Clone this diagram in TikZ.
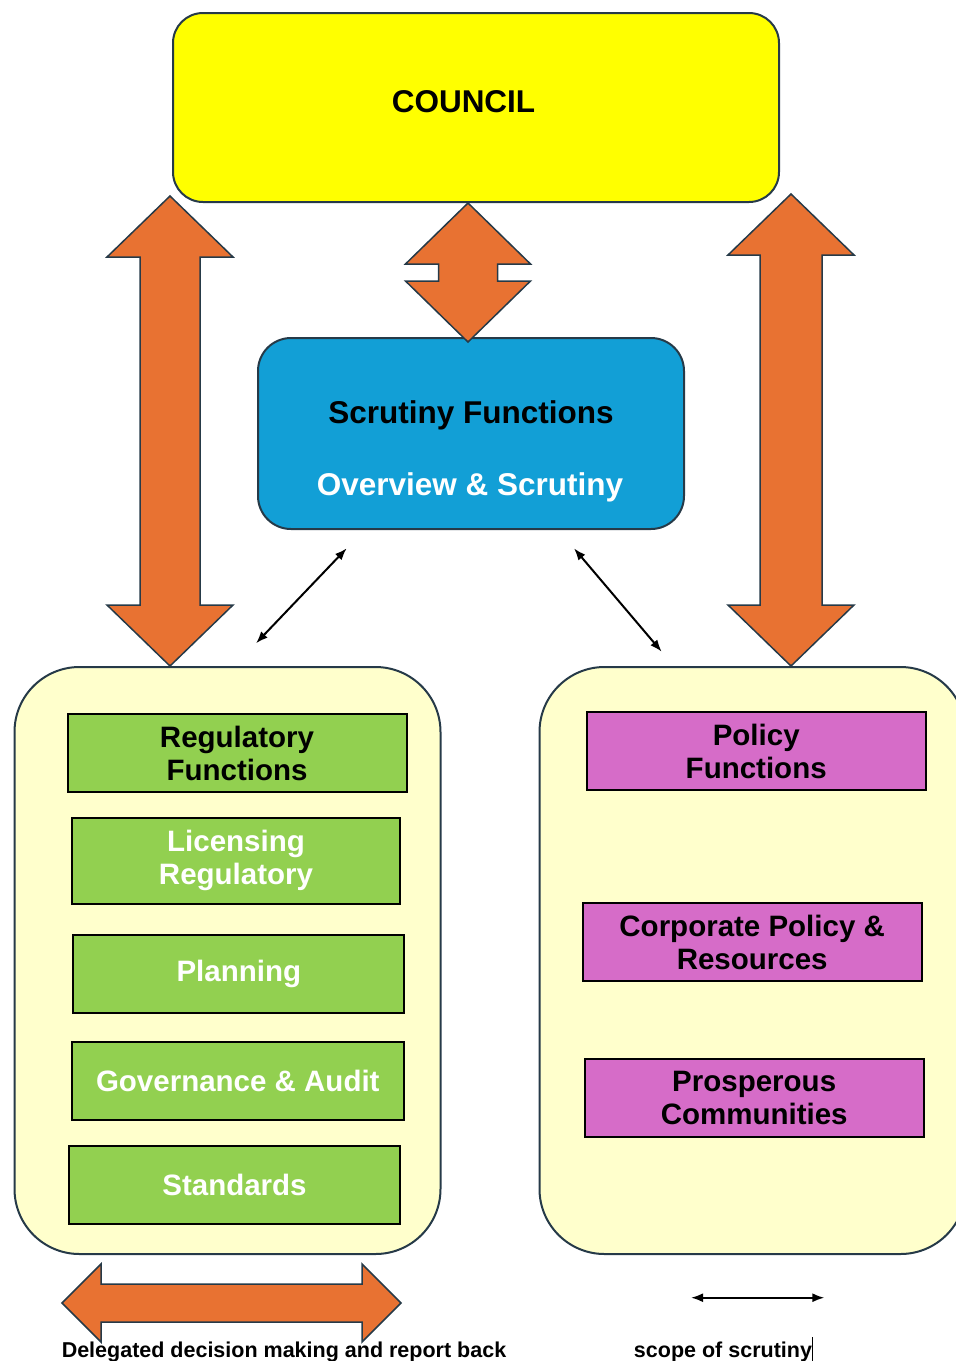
\documentclass[tikz,border=0pt]{standalone}
\usepackage{fontspec}
\setmainfont{Liberation Sans}
\usetikzlibrary{calc,arrows.meta}

\definecolor{cyellow}{RGB}{255,255,0}
\definecolor{sblue}{RGB}{18,159,214}
\definecolor{pyellow}{RGB}{255,255,204}
\definecolor{rgreen}{RGB}{146,208,80}
\definecolor{pmagenta}{RGB}{214,108,200}
\definecolor{aorange}{RGB}{232,114,50}
\definecolor{edgegray}{RGB}{38,58,72}

\begin{document}
\begin{tikzpicture}[x=1pt,y=-1pt,
  every node/.style={font=\fontsize{29.5}{33}\selectfont\bfseries,inner sep=0pt},
  cbox/.style={draw=edgegray,line width=2pt,fill=cyellow,rounded corners=30pt,minimum width=606pt,minimum height=189pt},
  sbox/.style={draw=edgegray,line width=2pt,fill=sblue,rounded corners=33pt,minimum width=426pt,minimum height=191pt},
  panel/.style={draw=edgegray,line width=2pt,fill=pyellow,rounded corners=65pt,minimum width=426pt,minimum height=587pt},
  gbox/.style={draw=black,line width=2pt,fill=rgreen,align=center,minimum width=331pt,minimum height=78pt},
  pbox/.style={draw=black,line width=2pt,fill=pmagenta,align=center,minimum width=339pt,minimum height=78pt},
  blockarr/.style n args={3}{fill=aorange,draw=edgegray,line width=1.5pt,line join=miter,
    to path={-- ($(\tikztostart)!#1!(\tikztotarget)!#2!90:(\tikztotarget)$)
      -- ($(\tikztostart)!#1!(\tikztotarget)!#3!90:(\tikztotarget)$)
      -- ($(\tikztotarget)!#1!(\tikztostart)!#3!-90:(\tikztostart)$)
      -- ($(\tikztotarget)!#1!(\tikztostart)!#2!-90:(\tikztostart)$)
      -- (\tikztotarget)
      -- ($(\tikztotarget)!#1!(\tikztostart)!#2!90:(\tikztostart)$)
      -- ($(\tikztotarget)!#1!(\tikztostart)!#3!90:(\tikztostart)$)
      -- ($(\tikztostart)!#1!(\tikztotarget)!#3!-90:(\tikztotarget)$)
      -- ($(\tikztostart)!#1!(\tikztotarget)!#2!-90:(\tikztotarget)$)
      -- cycle}},
  dblarrow/.style={<->,>={Latex[length=12pt,width=9pt]},line width=2pt},
  small/.style={font=\fontsize{21.5}{24}\selectfont\bfseries}]

\useasboundingbox (0,0) rectangle (956,1361);

\node[cbox] (council) at (476,107.5) {};
\node[anchor=base,font=\fontsize{31.5}{36}\selectfont\bfseries] (c0) at (463.5,112.7) {COUNCIL};

\node[sbox] (scr) at (471,433.5) {};
\node[anchor=base,font=\fontsize{31.5}{36}\selectfont\bfseries] (s0) at (471,423) {Scrutiny Functions};
\node[anchor=base,font=\fontsize{31.5}{36}\selectfont\bfseries,text=white] (s00) at (470,495) {Overview \& Scrutiny};

\node[panel] (pl) at (227.5,960.5) {};
\node[panel] (pr) at (752.5,960.5) {};

\node[gbox,minimum width=339pt] (r1) at (237,753) {Regulatory\\Functions};
\node[gbox,text=white,minimum width=328pt,minimum height=86pt] (r2) at (236,860.8) {Licensing\\Regulatory};
\node[gbox,text=white] (r3) at (238.8,973.7) {Planning};
\node[gbox,text=white,minimum width=332pt] (r4) at (237.8,1080.7) {Governance \& Audit};
\node[gbox,text=white] (r5) at (234.5,1185.3) {Standards};

\node[pbox] (p1) at (756.2,751.3) {Policy\\Functions};
\node[pbox] (p2) at (752.2,942) {Corporate Policy \&\\Resources};
\node[pbox] (p3) at (754.2,1098) {Prosperous\\Communities};

\coordinate (a1) at (170,196);
\coordinate (a2) at (a1 |- pl.north);
\coordinate (b1) at (791,194);
\coordinate (b2) at (b1 |- pr.north);
\coordinate (m1) at (468,203);
\coordinate (m2) at (468,342);
\coordinate (h1) at (62,1303);
\coordinate (h2) at (401,1303);
\draw[blockarr={61pt}{63pt}{30pt}] (a1) to (a2);
\draw[blockarr={61pt}{63pt}{31pt}] (b1) to (b2);
\draw[blockarr={61pt}{62.5pt}{29.5pt}] (m1) to (m2);
\draw[blockarr={39pt}{39pt}{19pt}] (h1) to (h2);

\coordinate (s1) at (346.7,548.3);
\coordinate (s2) at (256,643.3);
\coordinate (s3) at (574,548.3);
\coordinate (s4) at (661.7,651.7);
\draw[dblarrow] (s1) -- (s2);
\draw[dblarrow] (s3) -- (s4);

\coordinate (k1) at (691,1297.7);
\coordinate (k2) at (824.4,1297.7);
\draw[dblarrow] (k1) -- (k2);

\node[small,anchor=base] (d1) at (284,1357) {Delegated decision making and report back};
\node[small,anchor=base] (d2) at (723.5,1357) {scope of scrutiny\rule[-5pt]{1pt}{25pt}};
%\draw (pl.south) -- (pr.south);
\end{tikzpicture}
\end{document}
